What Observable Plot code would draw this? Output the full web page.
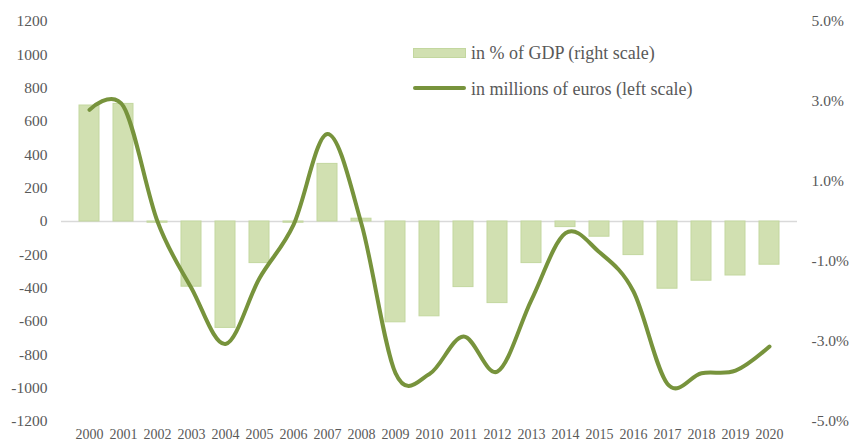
<!DOCTYPE html>
<html>
<head>
<meta charset="utf-8">
<script src="https://cdn.jsdelivr.net/npm/d3@7"></script>
<script src="https://cdn.jsdelivr.net/npm/@observablehq/plot@0.6"></script>
<style>
  body { margin: 0; background: #fff; }
  #wrap { position: relative; width: 850px; height: 441px; font-family: "Liberation Serif", "Times New Roman", serif; }
  #wrap svg, #wrap svg text { font-family: "Liberation Serif", "Times New Roman", serif !important; }
  .leg { position: absolute; left: 413px; display: flex; align-items: center; font-size: 18px; color: #595959; white-space: nowrap; line-height: 18px; }
</style>
</head>
<body>
<div id="wrap"></div>
<script>
// Data
const years = [2000, 2001, 2002, 2003, 2004, 2005, 2006, 2007, 2008, 2009, 2010,
               2011, 2012, 2013, 2014, 2015, 2016, 2017, 2018, 2019, 2020];
// in % of GDP (right scale)
const pctGDP = [2.9, 2.94, -0.03, -1.63, -2.66, -1.04, -0.03, 1.44, 0.07, -2.52, -2.37,
                -1.64, -2.04, -1.04, -0.14, -0.38, -0.84, -1.68, -1.48, -1.35, -1.08];
// in millions of euros (left scale)
const millions = [670, 690, 0, -400, -735, -340, -20, 525, -15, -910, -915,
                  -690, -900, -470, -70, -185, -420, -975, -910, -895, -750];
const leftTicks = [1200, 1000, 800, 600, 400, 200, 0, -200, -400, -600, -800, -1000, -1200];
const rightTickPct = [5, 3, 1, -1, -3, -5];
const rightTickLabels = ["5.0%", "3.0%", "1.0%", "-1.0%", "-3.0%", "-5.0%"];
const legendLabels = ["in % of GDP (right scale)", "in millions of euros (left scale)"];

const PCT_TO_LEFT = 1200 / 5; // right-axis percent to left-axis units
const barFill = "#d1e0b1", barStroke = "#c3d79f", lineColor = "#77933c";
const serif = "'Liberation Serif', 'Times New Roman', serif";

const data = years.map((y, i) => ({year: String(y), pct: pctGDP[i], value: millions[i]}));
const rightLabelMap = new Map(rightTickPct.map((p, i) => [p * PCT_TO_LEFT, rightTickLabels[i]]));

const chart = Plot.plot({
  width: 850,
  height: 441,
  marginTop: 21,
  marginBottom: 20,
  marginLeft: 61,
  marginRight: 53,
  style: "font-family: 'Liberation Serif', 'Times New Roman', serif; color: #595959; background: #fff;",
  x: {type: "band", domain: years.map(String), padding: 0.42, label: null},
  y: {domain: [-1200, 1200], label: null},
  marks: [
    Plot.ruleY([0], {stroke: "#d9d9d9", strokeWidth: 1.5}),
    Plot.barY(data, {x: "year", y: d => d.pct * PCT_TO_LEFT, fill: barFill, stroke: barStroke, strokeWidth: 1}),
    Plot.lineY(data, {x: "year", y: "value", stroke: lineColor, strokeWidth: 4, curve: "catmull-rom", tension: 0, strokeLinecap: "round"}),
    Plot.axisX({tickSize: 0, tickPadding: 8, fontSize: 14, fontFamily: serif, label: null}),
    Plot.axisY(leftTicks, {anchor: "left", tickSize: 0, tickPadding: 14, fontSize: 15.5, fontFamily: serif, tickFormat: d => String(d), label: null}),
    Plot.axisY(rightTickPct.map(p => p * PCT_TO_LEFT), {anchor: "right", tickSize: 0, tickPadding: 14, fontSize: 15.5, fontFamily: serif, tickFormat: d => rightLabelMap.get(d), label: null})
  ]
});

const wrap = document.getElementById("wrap");
wrap.appendChild(chart);

// Legend overlay
const leg1 = document.createElement("div");
leg1.className = "leg";
leg1.style.top = "44px";
leg1.innerHTML = `<svg width="58" height="18"><rect x="0.5" y="4.5" width="52" height="9" fill="${barFill}" stroke="${barStroke}"/></svg><span></span>`;
leg1.querySelector("span").textContent = legendLabels[0];
wrap.appendChild(leg1);

const leg2 = document.createElement("div");
leg2.className = "leg";
leg2.style.top = "80px";
leg2.innerHTML = `<svg width="58" height="18"><line x1="2" x2="51" y1="8" y2="8" stroke="${lineColor}" stroke-width="4" stroke-linecap="round"/></svg><span></span>`;
leg2.querySelector("span").textContent = legendLabels[1];
wrap.appendChild(leg2);
</script>
</body>
</html>
